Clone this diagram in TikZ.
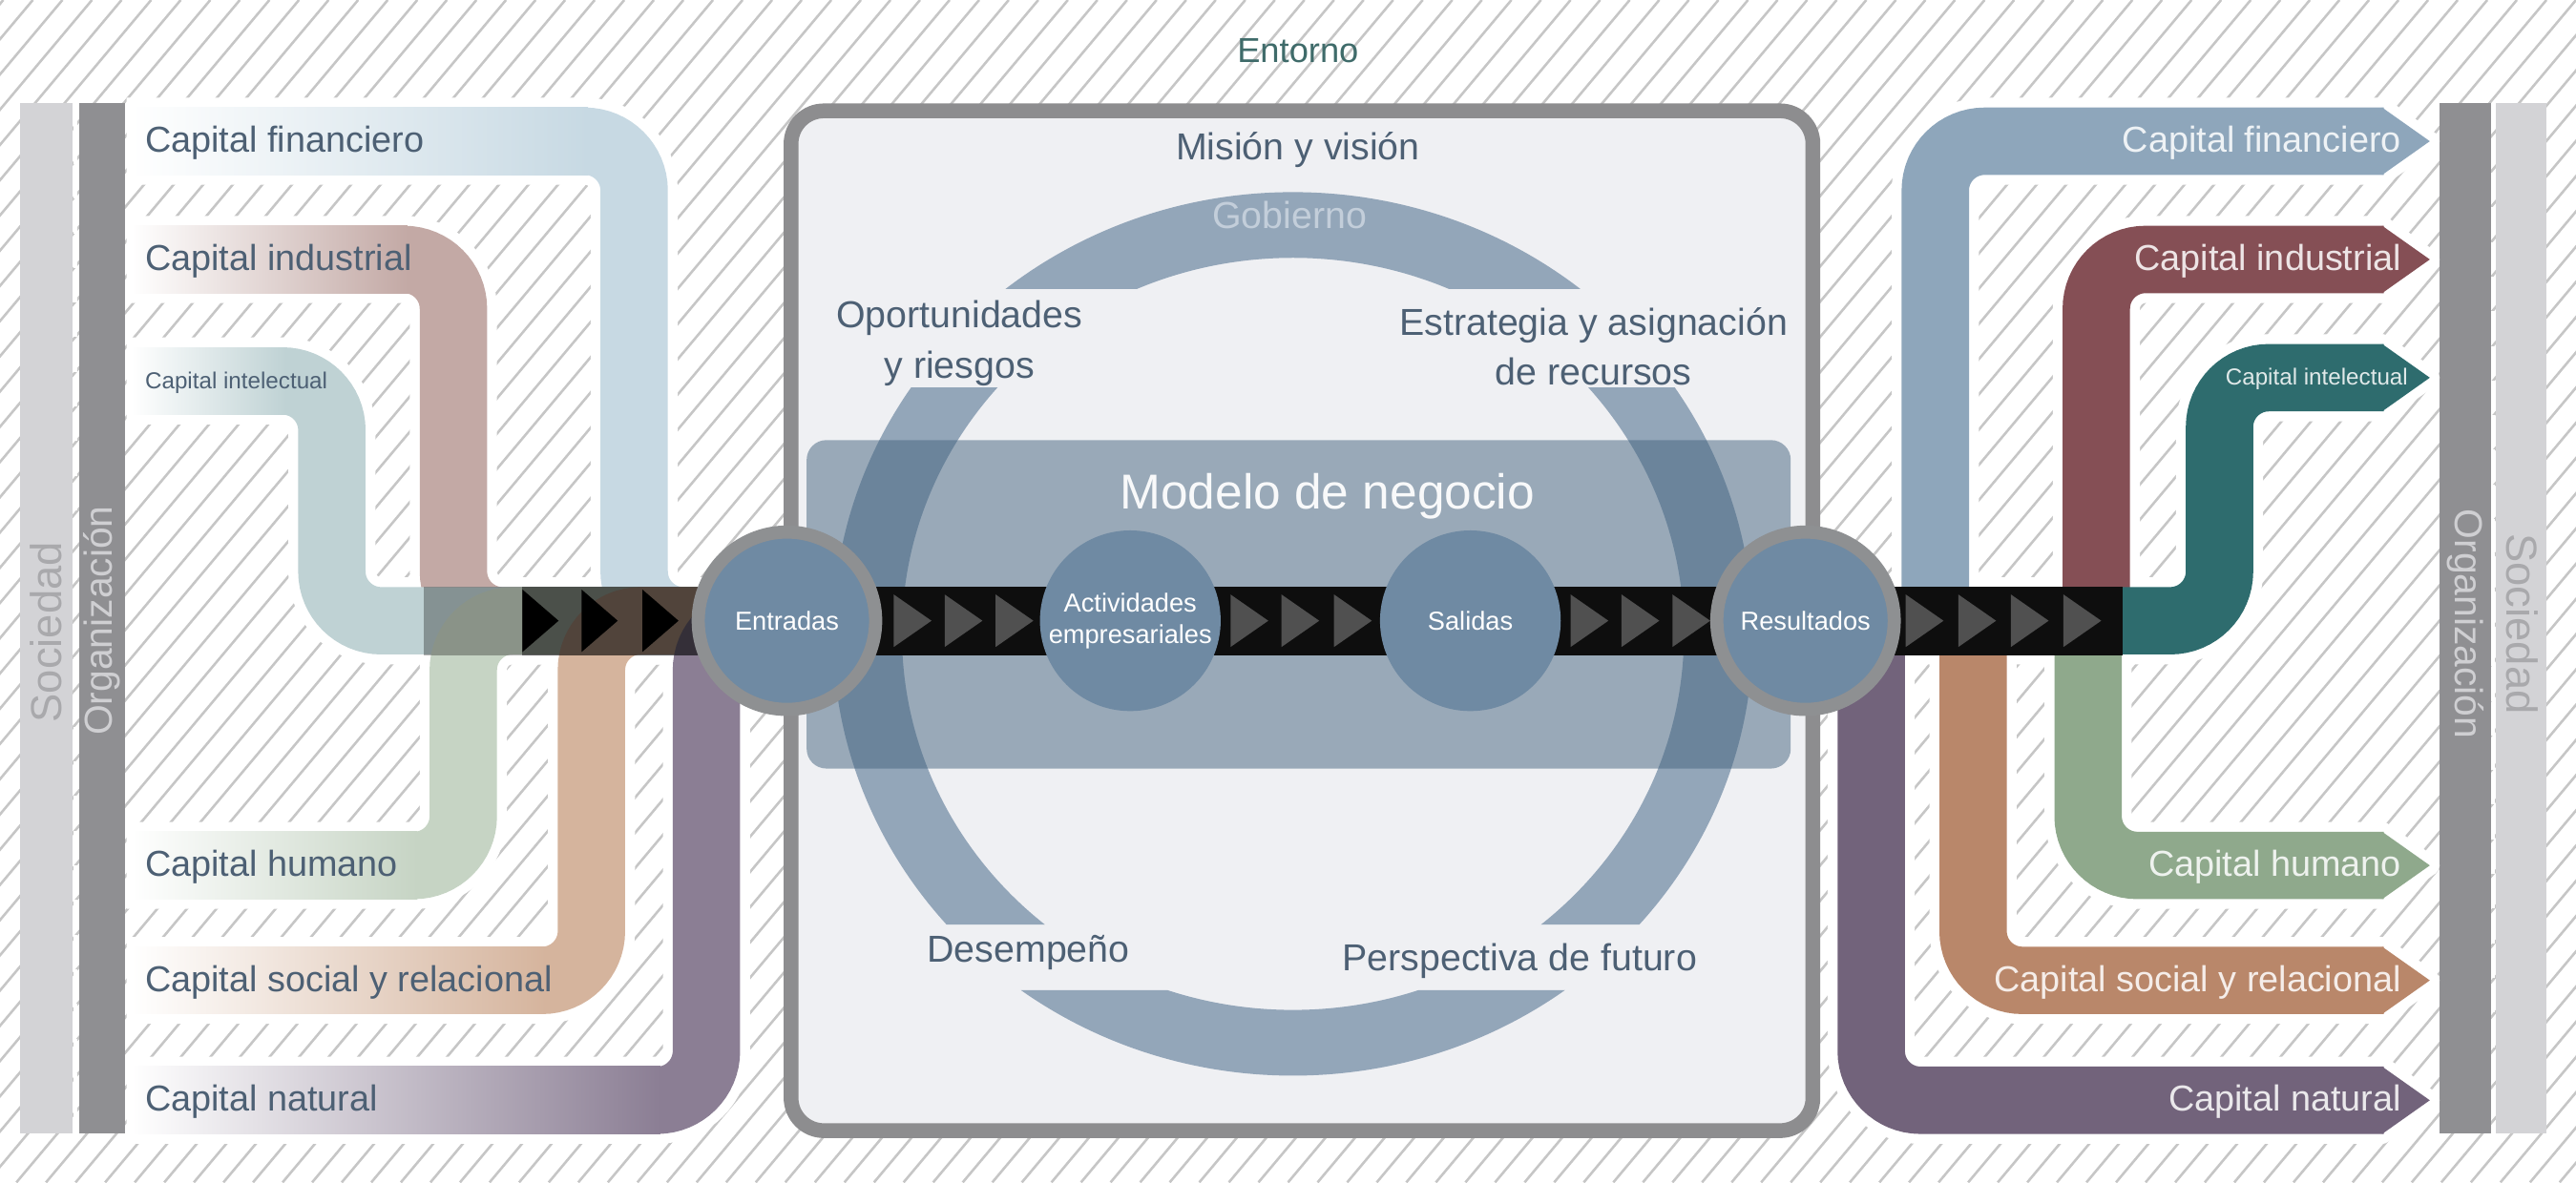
\documentclass[tikz,border=0pt]{standalone}
\usepackage{fontspec}
\setmainfont{Liberation Sans}

% general colours
\definecolor{hatchc}{HTML}{C6C6C6}
\definecolor{boxbg}{HTML}{EFF0F3}
\definecolor{boxline}{HTML}{8D8D8F}
\definecolor{ringc}{HTML}{93A6B9}
\definecolor{modelc}{HTML}{44647F}
\definecolor{circc}{HTML}{6F8AA3}
\definecolor{circring}{HTML}{8E9092}
\definecolor{stripc}{HTML}{0E0E0E}
\definecolor{chevc}{HTML}{505050}
\definecolor{txtc}{HTML}{4D6074}
\definecolor{entc}{HTML}{3F6B6A}
\definecolor{gobc}{HTML}{C3CEDA}
\definecolor{socbar}{HTML}{D3D3D6}
\definecolor{soctxt}{HTML}{A9A9AC}
\definecolor{orgbar}{HTML}{8F8F92}
\definecolor{orgtxt}{HTML}{CFCFD2}
% capitals, input side
\definecolor{finL}{HTML}{C7D9E3}
\definecolor{indL}{HTML}{C3A9A5}
\definecolor{intL}{HTML}{BFD2D4}
\definecolor{humL}{HTML}{C6D4C4}
\definecolor{socL}{HTML}{D5B49D}
\definecolor{natL}{HTML}{8B7E94}
% capitals, output side
\definecolor{finR}{HTML}{8EA6BB}
\definecolor{indR}{HTML}{854F55}
\definecolor{intR}{HTML}{2E6C6E}
\definecolor{humR}{HTML}{8FA98C}
\definecolor{socR}{HTML}{B9876A}
\definecolor{natR}{HTML}{72637B}

\begin{document}
\begin{tikzpicture}[x=0.2mm, y=-0.2mm,
  every node/.style={inner sep=0pt},
  hatch/.style={hatchc, line width=0.3mm},
  halo/.style={white, line width=10.6mm, rounded corners=6mm},
  band/.style={line width=8.2mm, rounded corners=6mm},
  caplbl/.style={font=\fontsize{12.5}{15}\selectfont},
  smalllbl/.style={font=\fontsize{8}{10}\selectfont},
  bartxt/.style={font=\fontsize{13.5}{16}\selectfont},
  midlbl/.style={text=txtc, align=center, font=\fontsize{13}{17.5}\selectfont},
  circlbl/.style={circle, fill=circc, minimum size=22mm, text=white, align=center,
                  font=\fontsize{9}{11}\selectfont},
  edgecirc/.style={circlbl, draw=circring, line width=1.6mm, minimum size=21.6mm},
]

\useasboundingbox (0,0) rectangle (1568,720);

% --- Background: hatching ---
\begin{scope}
  \clip (0,0) rectangle (1568,720);
  \foreach \x in {-620,-602,...,1580}
    \draw[hatch] (\x,720) -- ++(604,-720);
\end{scope}

% --- Side bars ---
\fill[socbar] (12,63) rectangle (44,690);
\fill[orgbar] (48,63) rectangle (76,690);
\draw[white, line width=0.5mm, dashed] (46,63) -- (46,690);
\fill[orgbar] (1485,63) rectangle (1516,690);
\fill[socbar] (1519,63) rectangle (1550,690);
\draw[white, line width=0.5mm, dashed] (1517.5,63) -- (1517.5,690);

\node[bartxt, text=soctxt, rotate=90, font=\fontsize{15}{17}\selectfont] (socL) at (28,385) {Sociedad};
\node[bartxt, text=orgtxt, rotate=90] (orgL) at (62,378) {Organización};
\node[bartxt, text=orgtxt, rotate=-90] (orgR) at (1501,380) {Organización};
\node[bartxt, text=soctxt, rotate=-90, font=\fontsize{15}{17}\selectfont] (socR) at (1535,380) {Sociedad};

\node[text=entc, font=\fontsize{12}{14}\selectfont] (entorno) at (790,31) {Entorno};

% --- Middle Panel: organisation box ---
\draw[boxline, fill=boxbg, line width=1.8mm, rounded corners=4mm]
  (481.5,67.5) rectangle (1103.5,688.5);

% ring, cut where the labels sit
\begin{scope}
  \clip (470,60) rectangle (1110,176) (470,236) rectangle (1110,563)
        (470,603) rectangle (1110,700);
  \fill[ringc, even odd rule] (787,386) ellipse (280 and 269)
                              (787,386) ellipse (238 and 229);
\end{scope}

% business model box
\fill[modelc, opacity=0.5, rounded corners=2.4mm] (491,268) rectangle (1090,468);

\node[midlbl] (mision) at (790,91) {Misión y visión};
\node[midlbl, text=gobc] (gobierno) at (785,131) {Gobierno};
\node[midlbl] (oport) at (584,209) {Oportunidades\\y riesgos};
\node[midlbl] (estrat) at (970,211) {Estrategia y asignación\\de recursos};
\node[midlbl] (desemp) at (626,580) {Desempeño};
\node[midlbl] (persp) at (925,585) {Perspectiva de futuro};

% --- Left Panel: capitals in ---
\foreach \y/\xt in {86/386,158/276,232/202,527/282,597/360,670/430}
  \draw[halo] (77,\y) -- (\xt,\y) -- (\xt,378) -- (440,378);

\foreach \y/\xt/\col/\sty/\txt in {
   86/386/finL/caplbl/Capital financiero,
  158/276/indL/caplbl/Capital industrial,
  232/202/intL/smalllbl/Capital intelectual,
  527/282/humL/caplbl/Capital humano,
  597/360/socL/caplbl/Capital social y relacional,
  670/430/natL/caplbl/Capital natural%
}{
  \draw[band, \col] (\xt-30,\y) -- (\xt,\y) -- (\xt,378) -- (440,378);
  \shade[left color=white, right color=\col] (80,\y-20.5) rectangle (\xt-28,\y+20.5);
  \node[\sty, text=txtc, anchor=west] (in\y) at (88,\y+1) {\txt};
}

% dark flow into Entradas
\fill[black, opacity=0.3] (258,357) rectangle (318,399);
\fill[black, opacity=0.62] (318,357) rectangle (426,399);
\foreach \x in {318,354,391}
  \fill[black] (\x,359) -- (\x+22,378) -- (\x,397) -- cycle;

% --- Right Panel: capitals out ---
\foreach \y/\xv in {86/1178,158/1276,527/1271,597/1201,670/1139} {
  \draw[halo] (\xv,378) -- (\xv,\y) -- (1451,\y);
  \draw[white, fill=white, line width=2.4mm, line join=round]
    (1450,\y-20.5) -- (1479,\y) -- (1450,\y+20.5) -- cycle;
}
\draw[halo] (1150,378) -- (1351,378) -- (1351,230) -- (1451,230);
\draw[white, fill=white, line width=2.4mm, line join=round]
  (1450,209.5) -- (1479,230) -- (1450,250.5) -- cycle;

\foreach \y/\xv/\col/\sty/\txt in {
   86/1178/finR/caplbl/Capital financiero,
  158/1276/indR/caplbl/Capital industrial,
  527/1271/humR/caplbl/Capital humano,
  597/1201/socR/caplbl/Capital social y relacional,
  670/1139/natR/caplbl/Capital natural%
}{
  \draw[band, \col] (\xv,378) -- (\xv,\y) -- (1451,\y);
  \fill[\col] (1450,\y-20.5) -- (1479,\y) -- (1450,\y+20.5) -- cycle;
  \node[\sty, text=white!85!\col, anchor=east] (out\y) at (1462,\y+1) {\txt};
}
\draw[band, intR] (1150,378) -- (1351,378) -- (1351,230) -- (1451,230);
\fill[intR] (1450,209.5) -- (1479,230) -- (1450,250.5) -- cycle;
\node[smalllbl, text=white!85!intR, anchor=east] (out230) at (1466,231) {Capital intelectual};

% flow out of Resultados
\fill[stripc] (1099,357) rectangle (1292,399);
\foreach \x in {1160,1192,1224,1256}
  \fill[chevc] (\x,362) -- (\x+23,378) -- (\x,394) -- cycle;

% --- Value chain through the model ---
\fill[stripc] (479,357) rectangle (1099,399);
\foreach \x in {544,575,606,749,780,812,956,987,1018}
  \fill[chevc] (\x,362) -- (\x+23,378) -- (\x,394) -- cycle;

\node[edgecirc] (entradas) at (479,378) {Entradas};
\node[circlbl] (activ) at (688,378) {Actividades\\empresariales};
\node[circlbl] (salidas) at (895,378) {Salidas};
\node[edgecirc] (result) at (1099,378) {Resultados};

\node[text=white!95!circc, font=\fontsize{17}{20}\selectfont] (modelo) at (808,302) {Modelo de negocio};

\end{tikzpicture}
\end{document}
